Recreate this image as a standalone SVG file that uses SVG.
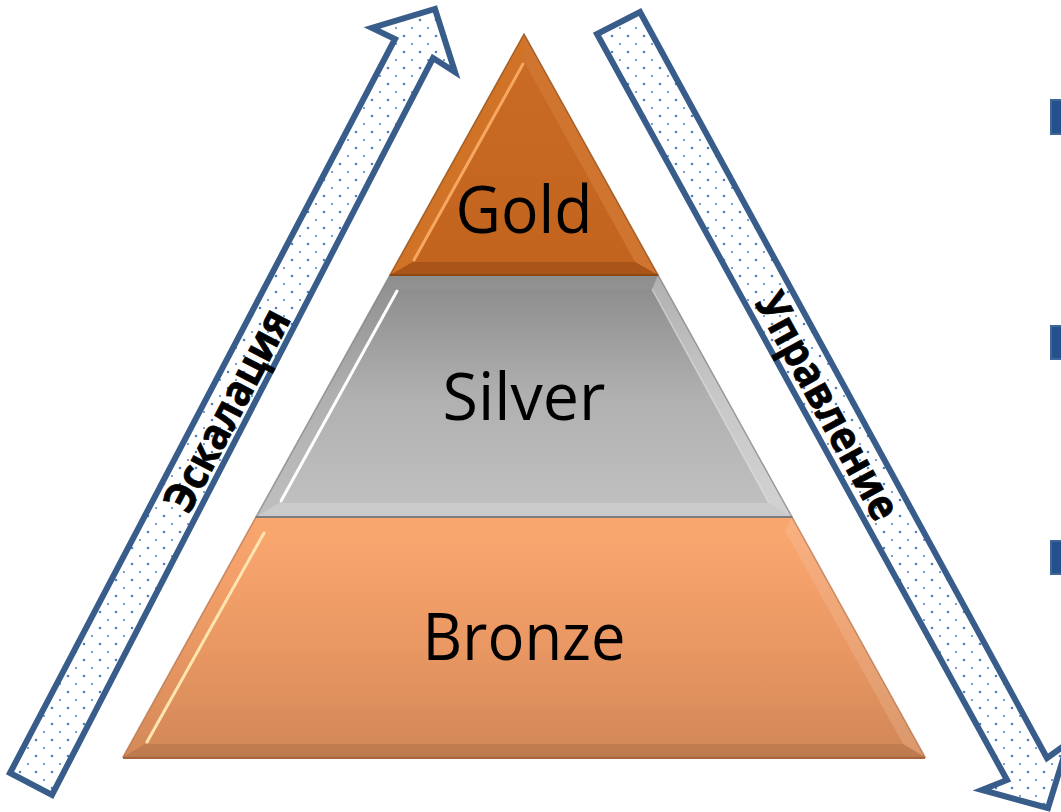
<svg xmlns="http://www.w3.org/2000/svg" width="1061" height="812" viewBox="0 0 1061 812">
<style>
.arrow{fill:url(#dots);stroke:#385d8a;stroke-width:6;stroke-linejoin:miter}
.lbl{font-family:"Open Sans","Liberation Sans",sans-serif;font-size:66px;fill:#000;text-anchor:middle}
.side{font-family:"Open Sans","Liberation Sans",sans-serif;font-size:43px;font-weight:bold;fill:#000;stroke:#000;stroke-width:0.8;text-anchor:middle}
.hl{fill:#fff}
.dk{fill:#000}
.sq{fill:#24508c;stroke:#3f6699;stroke-width:2}
</style>
<defs>
<pattern id="dots" width="16" height="16" patternUnits="userSpaceOnUse">
<rect width="16" height="16" fill="#fff"/>
<circle cx="4" cy="4" r="1.3" fill="#4f81bd"/>
<circle cx="12" cy="12" r="1" fill="#4f81bd"/>
</pattern>
<linearGradient id="gGold" x1="0" y1="0" x2="0" y2="1">
<stop offset="0" stop-color="#c96b25"/>
<stop offset="1" stop-color="#c2641e"/>
</linearGradient>
<linearGradient id="gSilver" x1="0" y1="0" x2="0" y2="1">
<stop offset="0" stop-color="#8e8e8e"/>
<stop offset="0.5" stop-color="#b0b0b0"/>
<stop offset="1" stop-color="#bfbfbf"/>
</linearGradient>
<linearGradient id="gBronze" x1="0" y1="0" x2="0" y2="1">
<stop offset="0" stop-color="#faa66f"/>
<stop offset="0.5" stop-color="#eb9964"/>
<stop offset="1" stop-color="#d48958"/>
</linearGradient>
</defs>
<rect width="1061" height="812" fill="#fff"/>

<g id="connectors">
<g id="arrow-escalation">
<polygon class="arrow" points="10,773 395,39 372,28 435,9 455,72 433,58 52,795"/>
<text class="side" transform="translate(227,410) rotate(-62.4)" dy="15" textLength="222" lengthAdjust="spacingAndGlyphs">Эскалация</text>
</g>
<g id="arrow-management">
<polygon class="arrow" points="640,12 1047,758 1068,743 1048,808 982,790 1007,780 597,34"/>
<text class="side" transform="translate(828,406) rotate(61.2)" dy="15" textLength="252" lengthAdjust="spacingAndGlyphs">Управление</text>
</g>
</g>

<g id="bronze">
<polygon points="256,517 792,517 925,757 123,757" fill="url(#gBronze)"/>
<polygon points="792,517 785,531 903,744 925,757" class="hl" opacity="0.12"/>
<polygon points="123,757 145,744 903,744 925,757" class="dk" opacity="0.1"/>
<polygon points="263,531 785,531 903,744 145,744" fill="url(#gBronze)"/>
<line x1="264" y1="533" x2="147" y2="742" stroke="#ffe6b0" stroke-width="3" stroke-linecap="round"/>
<polygon points="256,517 792,517 925,757 123,757" fill="none" stroke="#b06c44" stroke-width="1.5" stroke-opacity="0.7"/>
<line x1="123" y1="758" x2="925" y2="758" stroke="#a9643c" stroke-width="2"/>
<text class="lbl" x="524" y="660" textLength="203" lengthAdjust="spacingAndGlyphs">Bronze</text>
</g>

<g id="silver">
<polygon points="390,275 658,275 792,517 256,517" fill="url(#gSilver)"/>
<polygon points="658,275 652,289 769,503 792,517" class="hl" opacity="0.3"/>
<polygon points="256,517 279,503 769,503 792,517" class="hl" opacity="0.2"/>
<polygon points="396,289 652,289 769,503 279,503" fill="url(#gSilver)"/>
<line x1="397" y1="291" x2="281" y2="501" stroke="#ffffff" stroke-width="3" stroke-linecap="round"/>
<line x1="652" y1="289" x2="769" y2="503" stroke="#e0e0e0" stroke-width="1.5" stroke-opacity="0.7"/>
<polygon points="390,275 658,275 792,517 256,517" fill="none" stroke="#7a7a7a" stroke-width="1.5" stroke-opacity="0.7"/>
<line x1="256" y1="517" x2="792" y2="517" stroke="#7d7d7d" stroke-width="2"/>
<text class="lbl" x="524" y="420" textLength="163" lengthAdjust="spacingAndGlyphs">Silver</text>
</g>

<g id="gold">
<polygon points="524,34 390,275 658,275" fill="#c2661f"/>
<polygon points="524,34 390,275 413,262 524,62" fill="#d07326"/>
<polygon points="524,34 658,275 635,262 524,62" fill="#cf7530"/>
<polygon points="390,275 658,275 635,262 413,262" fill="#a9551a"/>
<polygon points="524,62 413,262 635,262" fill="url(#gGold)"/>
<line x1="523" y1="64" x2="414" y2="260" stroke="#f6a862" stroke-width="3" stroke-linecap="round"/>
<polygon points="524,34 390,275 658,275" fill="none" stroke="#8f4a14" stroke-width="1.5" stroke-opacity="0.7"/>
<line x1="390" y1="275" x2="658" y2="275" stroke="#8f4712" stroke-width="2"/>
<text class="lbl" x="524" y="233" textLength="137" lengthAdjust="spacingAndGlyphs">Gold</text>
</g>

<g id="bullets">
<rect class="sq" x="1051" y="100" width="14" height="34"/>
<rect class="sq" x="1051" y="326" width="14" height="33"/>
<rect class="sq" x="1051" y="541" width="14" height="33"/>
</g>
</svg>
